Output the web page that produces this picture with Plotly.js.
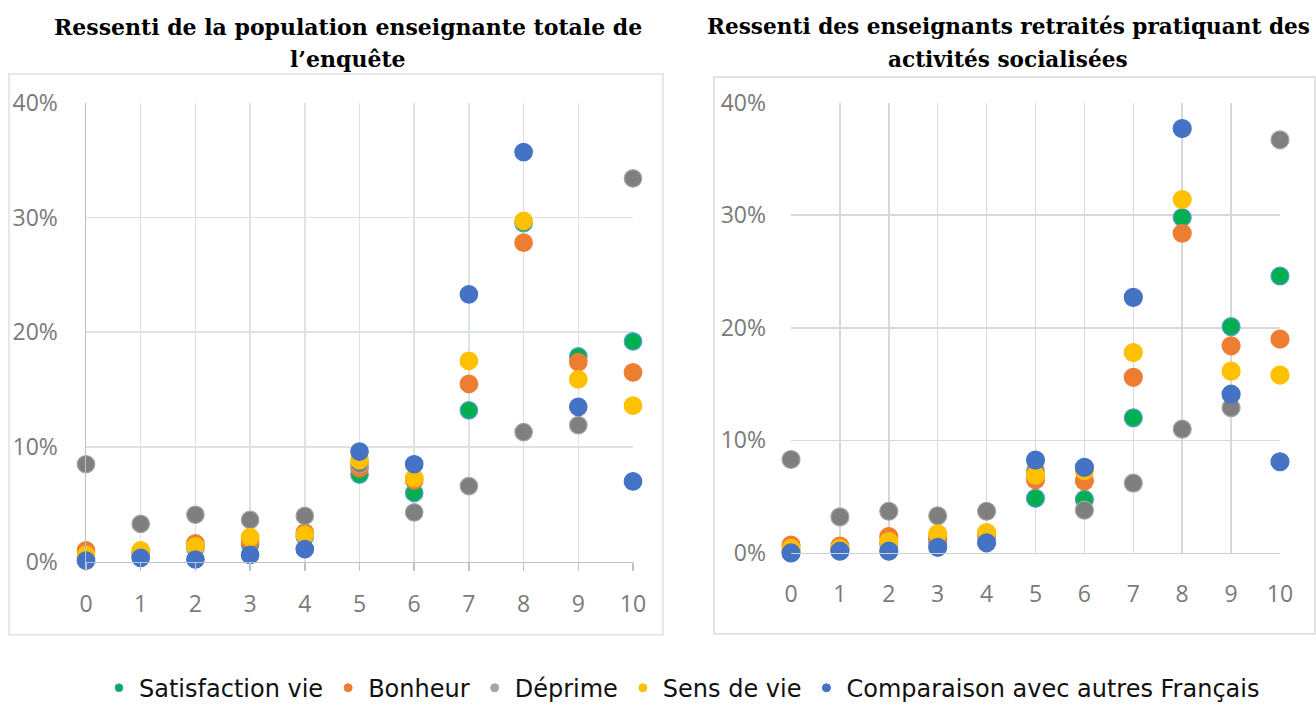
<!DOCTYPE html>
<html>
<head>
<meta charset="utf-8">
<script src="https://cdn.plot.ly/plotly-3.0.1.min.js"></script>
<style>
  html, body { margin: 0; padding: 0; background: #ffffff; }
  #chart { width: 1316px; height: 711px; }
</style>
</head>
<body>
<div id="chart"></div>
<script>
// Categories (score 0..10)
const categories = [0, 1, 2, 3, 4, 5, 6, 7, 8, 9, 10];

// Series names
const seriesNames = ["Satisfaction vie", "Bonheur", "Déprime", "Sens de vie", "Comparaison avec autres Français"];

// Left chart: population enseignante totale (%)
const satisfactionTotal = [0.3, 0.5, 1.2, 1.5, 2.2, 7.6, 6.0, 13.2, 29.5, 17.9, 19.2];
const bonheurTotal      = [1.0, 0.8, 1.6, 1.8, 2.55, 8.15, 7.1, 15.5, 27.8, 17.4, 16.5];
const deprimeTotal      = [8.5, 3.3, 4.1, 3.65, 4.0, 8.5, 4.3, 6.6, 11.3, 11.9, 33.4];
const sensTotal         = [0.6, 1.0, 1.35, 2.15, 2.35, 8.85, 7.3, 17.5, 29.7, 15.9, 13.6];
const comparaisonTotal  = [0.1, 0.35, 0.2, 0.6, 1.1, 9.6, 8.5, 23.3, 35.7, 13.5, 7.0];

// Right chart: enseignants retraités pratiquant des activités socialisées (%)
const satisfactionRetraites = [0.2, 0.3, 0.8, 1.0, 1.5, 4.85, 4.75, 12.0, 29.8, 20.1, 24.6];
const bonheurRetraites      = [0.7, 0.6, 1.45, 1.3, 1.7, 6.5, 6.4, 15.6, 28.4, 18.4, 19.0];
const deprimeRetraites      = [8.3, 3.2, 3.7, 3.3, 3.7, 7.3, 3.8, 6.2, 11.0, 12.9, 36.7];
const sensRetraites         = [0.4, 0.4, 1.0, 1.7, 1.8, 6.9, 7.3, 17.8, 31.4, 16.15, 15.8];
const comparaisonRetraites  = [0, 0.15, 0.15, 0.5, 0.9, 8.25, 7.6, 22.7, 37.7, 14.1, 8.1];

// Y ticks
const yTicks = [0, 10, 20, 30, 40];
const yTickLabels = ["0%", "10%", "20%", "30%", "40%"];

// Titles (two lines each)
const titleLeftLines = ["Ressenti de la population enseignante totale de", "l’enquête"];
const titleRightLines = ["Ressenti des enseignants retraités pratiquant des", "activités socialisées"];

// Styles
const fills = ["#00b050", "#ed7d31", "#7f7f7f", "#ffc000", "#4472c4"];
const outlines = ["#5b9bd5", "#ed7d31", "#a5a5a5", "#ffc000", "#4472c4"];
const legendFills = ["#00b050", "#ed7d31", "#a5a5a5", "#ffc000", "#4472c4"];

const W = 1316, H = 711;
const px = v => v / W;
const py = v => 1 - v / H;

const leftSeries = [satisfactionTotal, bonheurTotal, deprimeTotal, sensTotal, comparaisonTotal];
const rightSeries = [satisfactionRetraites, bonheurRetraites, deprimeRetraites, sensRetraites, comparaisonRetraites];

const traces = [];
leftSeries.forEach((vals, i) => {
  traces.push({
    type: "scatter", mode: "markers", x: categories, y: vals,
    xaxis: "x", yaxis: "y", showlegend: false, cliponaxis: false,
    name: seriesNames[i],
    marker: { size: 17.5, color: fills[i], line: { color: outlines[i], width: 1.2 } }
  });
});
rightSeries.forEach((vals, i) => {
  traces.push({
    type: "scatter", mode: "markers", x: categories, y: vals,
    xaxis: "x2", yaxis: "y2", showlegend: false, cliponaxis: false,
    name: seriesNames[i],
    marker: { size: 18, color: fills[i], line: { color: outlines[i], width: 1.2 } }
  });
});
// legend-only entries (small dots like the original legend)
seriesNames.forEach((nm, i) => {
  traces.push({
    type: "scatter", mode: "markers", x: [null], y: [null],
    xaxis: "x", yaxis: "y", showlegend: true, name: nm,
    marker: { size: 8, color: legendFills[i], line: { color: outlines[i], width: 1 } }
  });
});

const tickFont = { family: "Open Sans, sans-serif", size: 23, color: "#7a7a7a" };
const titleFont = { family: "DejaVu Serif, serif", size: 22, color: "#000000" };

const annotations = [];
[[titleLeftLines, 348, 22], [titleRightLines, 1008, 21.6]].forEach(([lines, cx, fs]) => {
  lines.forEach((t, k) => {
    annotations.push({
      xref: "paper", yref: "paper", x: px(cx), y: py(k === 0 ? 27 : 60),
      xanchor: "center", yanchor: "middle", text: "<b>" + t + "</b>",
      showarrow: false, font: Object.assign({}, titleFont, { size: fs })
    });
  });
});

const layout = {
  width: W, height: H,
  margin: { l: 0, r: 0, t: 0, b: 0 },
  paper_bgcolor: "#ffffff", plot_bgcolor: "rgba(0,0,0,0)",
  showlegend: true,
  legend: {
    orientation: "h", x: px(682), xanchor: "center", y: py(697), yanchor: "middle",
    font: { family: "DejaVu Sans, sans-serif", size: 24, color: "#111111" },
    itemsizing: "trace", traceorder: "normal", bgcolor: "rgba(0,0,0,0)"
  },
  xaxis: {
    domain: [px(86), px(633)], anchor: "y", range: [0, 10],
    tickvals: categories, showgrid: true, gridcolor: "#dde2ea", gridwidth: 1.5,
    zeroline: false, showline: true, linecolor: "#b8c2d2", linewidth: 1.5,
    ticks: "outside", ticklen: 8, tickcolor: "#b8c2d2", tickwidth: 1.5,
    tickfont: tickFont, ticklabelstandoff: 13, fixedrange: true
  },
  yaxis: {
    domain: [py(569), py(104)], anchor: "x", range: [0, 40],
    tickvals: yTicks, ticktext: yTickLabels, showgrid: true, gridcolor: "#dde2ea", gridwidth: 1.5,
    zeroline: false, showline: true, linecolor: "#b8c2d2", linewidth: 1.5,
    ticks: "", tickfont: tickFont, ticklabelstandoff: 22, fixedrange: true
  },
  xaxis2: {
    domain: [px(791), px(1280)], anchor: "y2", range: [0, 10],
    tickvals: categories, showgrid: true, gridcolor: "#d9d9d9", gridwidth: 1.5,
    zeroline: false, showline: true, linecolor: "#d0d0d0", linewidth: 1.5,
    ticks: "", tickfont: tickFont, ticklabelstandoff: 20, fixedrange: true
  },
  yaxis2: {
    domain: [py(560), py(104)], anchor: "x2", range: [0, 40],
    tickvals: yTicks, ticktext: yTickLabels, showgrid: true, gridcolor: "#d9d9d9", gridwidth: 1.5,
    zeroline: false, showline: false,
    ticks: "", tickfont: tickFont, ticklabelstandoff: 24, fixedrange: true
  },
  shapes: [
    { type: "rect", xref: "paper", yref: "paper", x0: px(9), x1: px(663), y0: py(643), y1: py(75),
      line: { color: "#dde2ea", width: 1.5 }, fillcolor: "rgba(0,0,0,0)", layer: "below" },
    { type: "rect", xref: "paper", yref: "paper", x0: px(714), x1: px(1315), y0: py(642), y1: py(78),
      line: { color: "#d9d9d9", width: 1.5 }, fillcolor: "rgba(0,0,0,0)", layer: "below" }
  ],
  annotations: annotations
};

Plotly.newPlot("chart", traces, layout, { displayModeBar: false, staticPlot: true });
</script>
</body>
</html>
